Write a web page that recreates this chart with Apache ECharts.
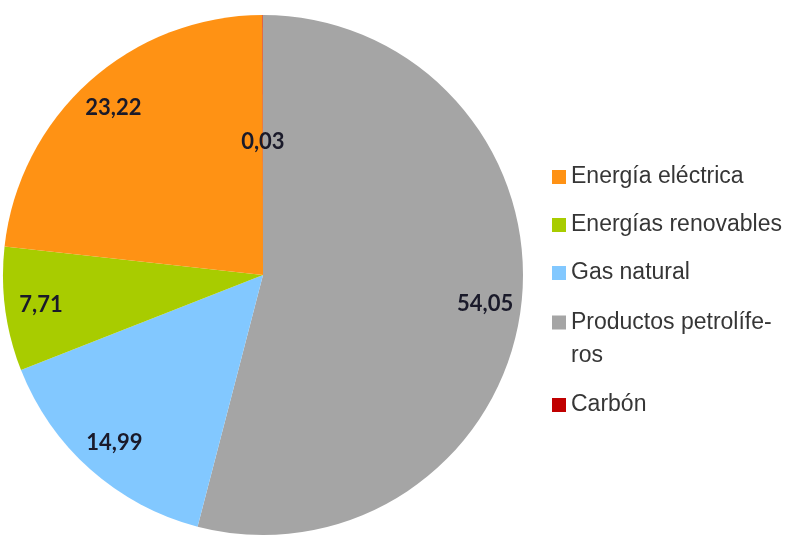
<!DOCTYPE html>
<html lang="es">
<head>
<meta charset="UTF-8">
<title>Consumo de energía</title>
<script src="https://cdn.jsdelivr.net/npm/echarts@6/dist/echarts.min.js"></script>
<style>
  html, body { margin: 0; padding: 0; background: #fff; }
  #main { width: 788px; height: 547px; }
</style>
</head>
<body>
<div id="main"></div>
<script>
// orden del pastel: sentido horario desde las 12
var categorias = ['Productos petrolíferos', 'Gas natural', 'Energías renovables', 'Energía eléctrica', 'Carbón'];
var valores = [54.05, 14.99, 7.71, 23.22, 0.03];
var colores = ['#A5A5A5', '#82C8FF', '#A8CC00', '#FF9214', '#C00000'];
// orden de la leyenda
var leyenda1 = ['Energía eléctrica', 'Energías renovables', 'Gas natural'];
var leyenda2 = ['Productos petrolíferos'];
var leyenda3 = ['Carbón'];

function fmt(v) { return v.toFixed(2).replace('.', ','); }

var etiqueta = {
  fontFamily: 'Lato, "Open Sans", sans-serif',
  fontWeight: 'bold',
  fontSize: 22,
  color: '#1a1a2a'
};
var textoLeyenda = {
  fontFamily: '"Liberation Sans", Arial, sans-serif',
  fontSize: 23,
  color: '#363636',
  lineHeight: 30
};

var radio = 260;

// serie visible: sólo el Carbón lleva etiqueta aquí (a media distancia)
var datosPie = categorias.map(function (n, i) {
  return {
    name: n,
    value: valores[i],
    itemStyle: { color: colores[i] },
    label: { show: n === 'Carbón' }
  };
});
// anillo transparente para poner las demás etiquetas cerca del borde
var datosAnillo = categorias.map(function (n, i) {
  return {
    name: n,
    value: valores[i],
    label: { show: n !== 'Carbón' }
  };
});

var myChart = echarts.init(document.getElementById('main'));
myChart.setOption({
  animation: false,
  backgroundColor: '#fff',
  legend: [{
    orient: 'vertical', left: 547, top: 157,
    icon: 'rect', itemWidth: 14, itemHeight: 14, itemGap: 18,
    selectedMode: false,
    data: leyenda1,
    textStyle: textoLeyenda
  }, {
    orient: 'vertical', left: 547, top: 268,
    icon: 'rect', itemWidth: 14, itemHeight: 14,
    selectedMode: false,
    data: leyenda2,
    // línea vacía arriba para que el cuadro quede a la altura de la primera línea
    formatter: function (n) { return '\nProductos petrolífe-\nros'; },
    textStyle: Object.assign({}, textoLeyenda, { lineHeight: 33 })
  }, {
    orient: 'vertical', left: 547, top: 385,
    icon: 'rect', itemWidth: 14, itemHeight: 14,
    selectedMode: false,
    data: leyenda3,
    textStyle: textoLeyenda
  }],
  series: [{
    type: 'pie',
    center: [263, 275],
    radius: [0, radio],
    startAngle: 90,
    clockwise: true,
    silent: true,
    avoidLabelOverlap: false,
    itemStyle: { borderWidth: 0 },
    label: Object.assign({ position: 'inside', formatter: function (p) { return fmt(p.value); } }, etiqueta),
    labelLine: { show: false },
    emphasis: { disabled: true },
    data: datosPie
  }, {
    type: 'pie',
    center: [263, 275],
    radius: [182, radio],
    startAngle: 90,
    clockwise: true,
    silent: true,
    avoidLabelOverlap: false,
    itemStyle: { color: 'rgba(0,0,0,0)', borderWidth: 0 },
    label: Object.assign({ position: 'inside', formatter: function (p) { return fmt(p.value); } }, etiqueta),
    labelLine: { show: false },
    emphasis: { disabled: true },
    data: datosAnillo
  }]
});
</script>
</body>
</html>
